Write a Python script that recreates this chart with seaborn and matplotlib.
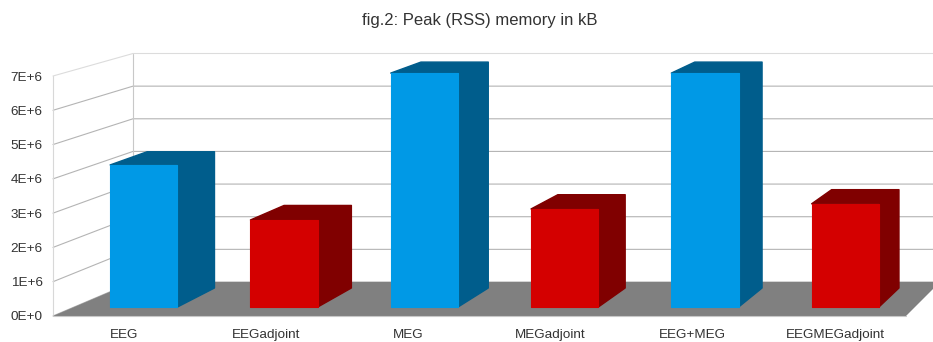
import matplotlib
matplotlib.use("Agg")
import matplotlib.pyplot as plt
from matplotlib.patches import Polygon
from matplotlib.transforms import Affine2D
import pandas as pd
import seaborn as sns

categories = ["EEG", "EEGadjoint", "MEG", "MEGadjoint", "EEG+MEG", "EEGMEGadjoint"]
peak_kb = [4.13e6, 2.53e6, 6.80e6, 2.85e6, 6.80e6, 3.00e6]
tick_values = [0, 1e6, 2e6, 3e6, 4e6, 5e6, 6e6, 7e6]
tick_labels = ["0E+0", "1E+6", "2E+6", "3E+6", "4E+6", "5E+6", "6E+6", "7E+6"]
bar_colors = ["#0099e6", "#d40000", "#0099e6", "#d40000", "#0099e6", "#d40000"]
shade_colors = {"#0099e6": "#005d8c", "#d40000": "#800000"}
title = "fig.2: Peak (RSS) memory in kB"

W, H = 933, 342
sns.set_theme(style="white")
plt.rcParams["font.family"] = ["Liberation Sans", "DejaVu Sans"]
fig = plt.figure(figsize=(W / 100, H / 100), dpi=100, facecolor="white")

# pixel (top-left origin) transform for the 3D wall construction
px = Affine2D().scale(1 / W, -1 / H).translate(0, 1) + fig.transFigure
GRID = "#b4b4b4"

# front value axis: carries tick labels
front = fig.add_axes([53 / W, 1 - 316 / H, 853 / W, 240 / H], zorder=1)
front.set_xlim(-0.5, 5.5)
front.set_ylim(0, 7e6)
front.set_yticks(tick_values, tick_labels, fontsize=9.7, color="#333333")
front.set_xticks(range(len(categories)), categories, fontsize=9.7, color="#333333")
front.tick_params(axis="y", length=0, pad=7.5)
front.tick_params(axis="x", length=0, pad=9.5)
front.patch.set_alpha(0)
sns.despine(ax=front, left=True, bottom=True)


def front_y(v):
    return 316 - 240 * v / 7e6


def back_y(v):
    return 282 - 228.5 * v / 7e6


# floor
fig.add_artist(Polygon([(53, 316), (133, 282), (940, 282), (906, 316)], closed=True,
                       transform=px, facecolor="#808080", edgecolor="none", zorder=0.2))
# walls and grid
for v in tick_values:
    fig.add_artist(plt.Line2D([53, 133, W], [front_y(v), back_y(v), back_y(v)], transform=px,
                              color="#dcdcdc" if v == 7e6 else GRID, lw=0.8, zorder=0.1))
fig.add_artist(plt.Line2D([53, 53], [front_y(0), front_y(7e6)], transform=px, color="#d8d8d8", lw=0.8, zorder=0.1))
fig.add_artist(plt.Line2D([133, 133], [back_y(0), back_y(7e6)], transform=px, color="#c8c8c8", lw=0.8, zorder=0.1))
fig.add_artist(plt.Line2D([53, 906], [316, 316], transform=px, color="#c8c8c8", lw=0.8, zorder=0.3))

# bars, in their own transparent axes at the mid-depth plane
ax = fig.add_axes([0, 0, 1, 1], zorder=2)
ax.patch.set_alpha(0)
df = pd.DataFrame({"category": categories, "peak": peak_kb})
sns.barplot(data=df, x="category", y="peak", hue="category", palette=bar_colors, legend=False,
            width=0.48, saturation=1, ax=ax)
ax.set_xlim((0 - 143.8) / 140.3, (W - 143.8) / 140.3)
ax.set_ylim((307 - H) / 34.4 * 1e6, 307 / 34.4 * 1e6)
ax.axis("off")


def back_x(x):
    return x + 37 - (x - 178) * 17 / 701


def back_top_y(y):
    return y - 11 - (y - 73) * 0.024


to_px = ax.transData + px.inverted()
for patch, color in zip(list(ax.patches), bar_colors):
    x0, y_b = patch.get_x(), patch.get_y()
    x1, y_t = x0 + patch.get_width(), y_b + patch.get_height()
    (lx, by), (rx, ty) = to_px.transform([(x0, y_b), (x1, y_t)])
    shade = shade_colors[color]
    br_t = (back_x(rx), back_top_y(ty))
    br_b = (back_x(rx), by - 19)
    bl_t = (br_t[0] - (rx - lx), br_t[1])
    fig.add_artist(Polygon([(lx, ty), bl_t, br_t, br_b, (rx, by), (rx, ty)], closed=True, transform=px,
                           facecolor=shade, edgecolor=shade, lw=1, joinstyle="round", zorder=0.5))
    patch.set_edgecolor(color)
    patch.set_linewidth(0.8)
    patch.set_joinstyle("round")

fig.text(480 / W, 1 - 21 / H, title, ha="center", va="center", fontsize=12, color="#333333")
fig.savefig("out.png", dpi=100)
